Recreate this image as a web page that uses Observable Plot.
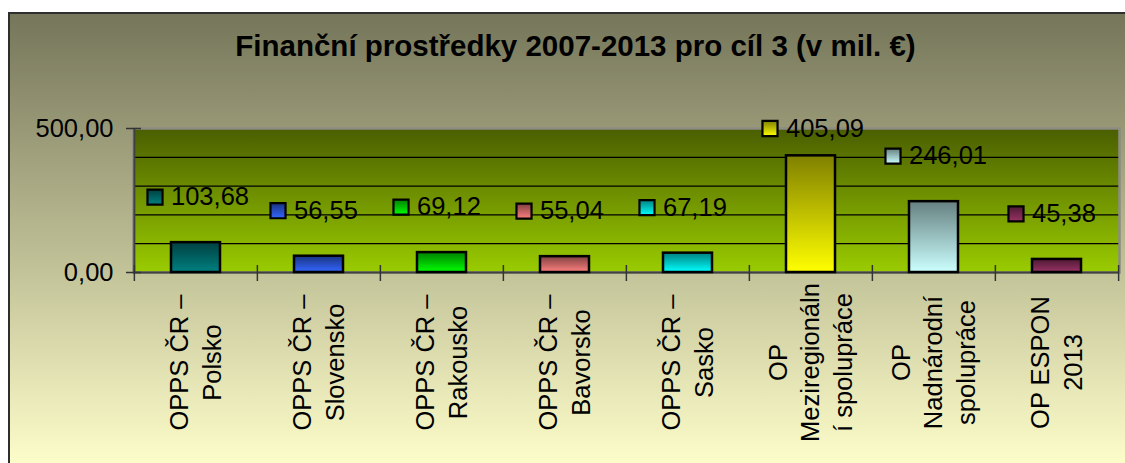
<!DOCTYPE html>
<html>
<head>
<meta charset="utf-8">
<script src="https://cdn.jsdelivr.net/npm/d3@7"></script>
<script src="https://cdn.jsdelivr.net/npm/@observablehq/plot@0.6"></script>
<style>
  html, body { margin: 0; padding: 0; background: white; }
  #wrap { position: relative; width: 1125px; height: 463px; overflow: hidden; background: white; }
  #bg { position: absolute; left: 8px; top: 12px; width: 1130px; height: 451px; box-sizing: border-box;
        border-left: 2px solid #2e2e2e; border-top: 2px solid #2e2e2e;
        background: linear-gradient(to bottom, #75765a 0%, #b9b991 50%, #fdfdca 100%); }
  #chart { position: absolute; left: 0; top: 0; }
</style>
</head>
<body>
<div id="wrap"><div id="bg"></div><div id="chart"></div></div>
<script>
const title = "Finanční prostředky 2007-2013 pro cíl 3 (v mil. €)";
const categories = [
  "OPPS ČR –\nPolsko",
  "OPPS ČR –\nSlovensko",
  "OPPS ČR –\nRakousko",
  "OPPS ČR –\nBavorsko",
  "OPPS ČR –\nSasko",
  "OP\nMeziregionáln\ní spolupráce",
  "OP\nNadnárodní\nspolupráce",
  "OP ESPON\n2013"
];
const values = [103.68, 56.55, 69.12, 55.04, 67.19, 405.09, 246.01, 45.38];
const colors = ["#008080", "#3366ff", "#00ff00", "#ff8080", "#00ffff", "#ffff00", "#ccffff", "#993366"];
const yTicks = [0, 500];
const gridValues = [100, 200, 300, 400];

const table = categories.map((c, i) => ({cat: c, value: values[i], i}));
const fmt = v => d3.format(".2f")(v).replace(".", ",");

const W = 1125, H = 463, ML = 133, MR = 6, MT = 128, MB = 191;
const step = (W - ML - MR) / categories.length;
const FONT = "Arial, 'Liberation Sans', sans-serif";
const labelY = d => Math.min(d.value + 158, 500);

const chart = Plot.plot({
  width: W, height: H,
  marginLeft: ML, marginRight: MR, marginTop: MT, marginBottom: MB,
  style: {background: "transparent", fontFamily: FONT, color: "black", overflow: "visible"},
  x: {domain: categories, paddingInner: 0.6, paddingOuter: 0.3},
  y: {domain: [0, 500]},
  color: {type: "identity"},
  marks: [
    Plot.frame({fill: "url(#plotBg)", stroke: null}),
    Plot.ruleY(gridValues, {stroke: "black", strokeWidth: 1.2}),
    Plot.frame({stroke: "#8c8c84", strokeWidth: 2.5}),
    Plot.ruleY([0], {stroke: "#404040", strokeWidth: 2}),
    Plot.ruleX([categories[0]], {dx: -step / 2, stroke: "#404040", strokeWidth: 2}),
    Plot.barY(table, {x: "cat", y: "value", fill: d => `url(#g${d.i})`, stroke: "black", strokeWidth: 2.5}),
    Plot.axisY({ticks: yTicks, tickSize: 15, dx: 8, tickPadding: 13, tickFormat: fmt,
                fontSize: 25.5, stroke: "#333", strokeWidth: 1.5, label: null}),
    Plot.axisX({ticks: categories, tickSize: 16, dy: -7, dx: -step / 2, fill: "none",
                stroke: "#333", strokeWidth: 1.5, label: null}),
    Plot.axisX({ticks: [categories[categories.length - 1]], tickSize: 16, dy: -7, dx: step / 2, fill: "none",
                stroke: "#333", strokeWidth: 1.5, label: null}),
    Plot.text(table, {x: "cat", text: "cat", frameAnchor: "bottom", dy: 90, dx: -2, rotate: -90,
                      textAnchor: "middle", lineAnchor: "middle", lineHeight: 1.28,
                      fontSize: 25.5, fill: "black"}),
    Plot.dot(table, {x: "cat", y: labelY, symbol: "square", r: 8.5, dx: -41,
                     fill: d => `url(#g${d.i})`, stroke: "black", strokeWidth: 2.2}),
    Plot.text(table, {x: "cat", y: labelY, text: d => fmt(d.value), dx: -25,
                      textAnchor: "start", lineAnchor: "middle", fontSize: 25.5, fill: "black"}),
    Plot.text([title], {text: d => d, frameAnchor: "top", dx: -51, dy: -81.5, lineAnchor: "middle",
                        fontSize: 29.5, fontWeight: "bold", fill: "black"})
  ]
});

// gradient definitions
const svg = d3.select(chart);
const defs = svg.insert("defs", ":first-child");
const bg = defs.append("linearGradient").attr("id", "plotBg")
  .attr("x1", 0).attr("y1", 0).attr("x2", 0).attr("y2", 1);
bg.append("stop").attr("offset", "0%").attr("stop-color", "#4a5e00");
bg.append("stop").attr("offset", "100%").attr("stop-color", "#9acc00");
colors.forEach((c, i) => {
  const g = defs.append("linearGradient").attr("id", `g${i}`)
    .attr("x1", 0).attr("y1", 0).attr("x2", 0).attr("y2", 1);
  const dark = d3.rgb(c); dark.r *= 0.5; dark.g *= 0.5; dark.b *= 0.5;
  g.append("stop").attr("offset", "0%").attr("stop-color", dark.formatHex());
  g.append("stop").attr("offset", "100%").attr("stop-color", c);
});

document.getElementById("chart").appendChild(chart);
</script>
</body>
</html>
